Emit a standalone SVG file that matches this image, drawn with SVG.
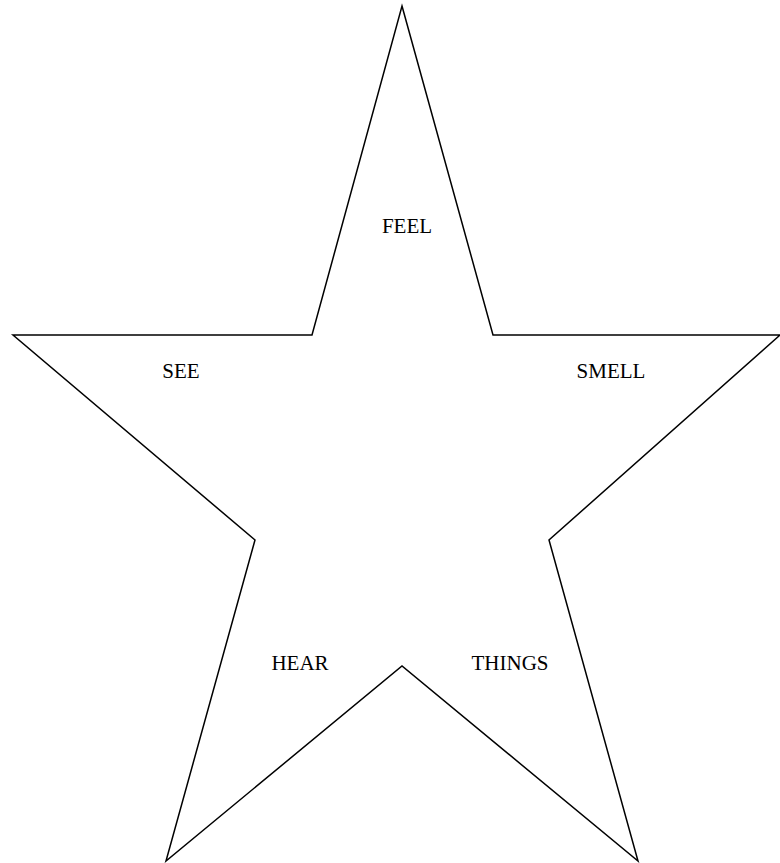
<svg xmlns="http://www.w3.org/2000/svg" width="780" height="863" viewBox="0 0 780 863">
<style>
.star{fill:#fff;stroke:#000;stroke-width:1.5;stroke-linejoin:miter}
.lbl{font-family:"Liberation Serif","Times New Roman",serif;font-size:21px;fill:#000;text-anchor:middle}
</style>
<rect width="780" height="863" fill="#fff"/>
<g id="star">
<polygon class="star" points="402,6 493,335 780,335 549,540 638,861 402,666 166,861 255,540 13,335 312,335"/>
</g>
<g id="connectors"></g>
<g id="feel"><text class="lbl" x="407" y="233">FEEL</text></g>
<g id="see"><text class="lbl" x="181" y="378">SEE</text></g>
<g id="smell"><text class="lbl" x="611" y="378">SMELL</text></g>
<g id="hear"><text class="lbl" x="300" y="670">HEAR</text></g>
<g id="things"><text class="lbl" x="510" y="670">THINGS</text></g>
</svg>
